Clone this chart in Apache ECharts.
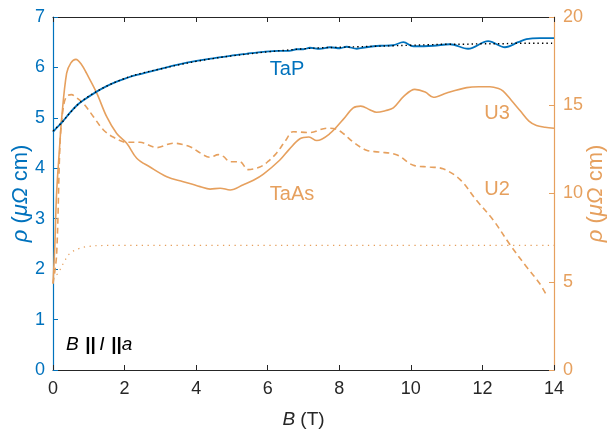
<!DOCTYPE html>
<html>
<head>
<meta charset="utf-8">
<script src="https://cdn.jsdelivr.net/npm/echarts@6/dist/echarts.min.js"></script>
<style>
html,body{margin:0;padding:0;background:#fff;}
#c{width:614px;height:432px;}
</style>
</head>
<body>
<div id="c"></div>
<script>
// ---- data ----
const xTicks = [0, 2, 4, 6, 8, 10, 12, 14];
const leftTicks = [0, 1, 2, 3, 4, 5, 6, 7];
const rightTicks = [0, 5, 10, 15, 20];

// TaP measured (left axis, µΩ cm)
const tapB   = [0, 0.1, 0.25, 0.47, 0.7, 0.85, 1.22, 1.5, 1.78, 2.06, 2.34, 2.9, 3.46, 4.01, 4.48, 4.95, 5.4, 5.88, 6.3, 6.6, 6.81, 7.0, 7.18, 7.45, 7.74, 8.02, 8.2, 8.49, 8.75, 9.14, 9.5, 9.79, 10.07, 10.63, 11.09, 11.6, 12.16, 12.63, 13.0, 13.23, 13.6, 14.0];
const tapRho = [4.72, 4.80, 4.91, 5.10, 5.27, 5.35, 5.52, 5.63, 5.72, 5.79, 5.85, 5.95, 6.05, 6.13, 6.18, 6.23, 6.27, 6.31, 6.33, 6.33, 6.36, 6.36, 6.39, 6.37, 6.40, 6.38, 6.41, 6.37, 6.40, 6.43, 6.44, 6.50, 6.42, 6.43, 6.46, 6.37, 6.52, 6.40, 6.50, 6.56, 6.58, 6.58];

// TaP fit (black dotted, left axis)
const fitB   = [0, 0.25, 0.5, 0.75, 1, 1.5, 2, 2.5, 3, 3.5, 4, 4.5, 5, 5.5, 6, 6.5, 7, 7.5, 8, 8.5, 9, 9.5, 10, 10.5, 11, 11.5, 12, 12.5, 13, 13.5, 14];
const fitRho = [4.74, 4.91, 5.12, 5.30, 5.43, 5.63, 5.78, 5.89, 5.97, 6.05, 6.12, 6.18, 6.23, 6.27, 6.31, 6.34, 6.37, 6.39, 6.40, 6.41, 6.42, 6.43, 6.44, 6.45, 6.46, 6.46, 6.47, 6.47, 6.48, 6.48, 6.48];

// TaAs U3 (solid, right axis)
const u3B   = [0, 0.05, 0.1, 0.18, 0.24, 0.38, 0.5, 0.64, 0.8, 0.94, 1.22, 1.5, 1.78, 2.06, 2.34, 2.71, 3.18, 3.64, 4.11, 4.39, 4.67, 4.95, 5.32, 5.6, 5.88, 6.34, 6.6, 6.9, 7.15, 7.37, 7.74, 8.11, 8.39, 8.6, 8.85, 9.04, 9.3, 9.51, 9.8, 10.11, 10.4, 10.63, 11.0, 11.56, 11.9, 12.21, 12.45, 12.58, 12.8, 13.05, 13.3, 13.51, 13.75, 14.0];
const u3Rho = [4.9, 7.0, 10.0, 12.5, 14.2, 16.8, 17.4, 17.6, 17.3, 16.8, 15.7, 14.35, 13.4, 12.85, 12.0, 11.5, 10.95, 10.67, 10.39, 10.25, 10.3, 10.2, 10.5, 10.75, 11.1, 11.9, 12.5, 13.1, 13.2, 13.0, 13.4, 14.2, 14.85, 14.95, 14.75, 14.6, 14.7, 14.85, 15.5, 15.9, 15.75, 15.45, 15.7, 16.0, 16.05, 16.05, 15.95, 15.8, 15.3, 14.7, 14.1, 13.85, 13.75, 13.7];

// TaAs U2 (dashed, right axis)
const u2B   = [0, 0.1, 0.2, 0.29, 0.38, 0.52, 0.61, 0.85, 1.13, 1.41, 1.68, 2.06, 2.43, 2.9, 3.36, 3.83, 4.11, 4.39, 4.62, 4.76, 4.95, 5.22, 5.45, 5.78, 6.0, 6.25, 6.5, 6.71, 7.18, 7.65, 7.9, 8.11, 8.4, 8.76, 9.1, 9.6, 10.07, 10.53, 10.9, 11.37, 11.84, 12.3, 12.77, 13.23, 13.6, 13.8];
const u2Rho = [4.9, 6.5, 13.0, 14.9, 15.5, 15.6, 15.5, 15.1, 14.35, 13.6, 13.2, 12.9, 12.9, 12.6, 12.85, 12.65, 12.3, 12.05, 12.2, 12.1, 11.8, 11.8, 11.35, 11.5, 11.8, 12.3, 13.0, 13.5, 13.45, 13.7, 13.65, 13.4, 12.9, 12.45, 12.35, 12.2, 11.6, 11.5, 11.4, 10.8, 9.6, 8.5, 7.1, 5.85, 4.9, 4.2];

// TaAs fit (orange dotted, right axis)
const afitB   = [0.1, 0.15, 0.29, 0.47, 0.75, 1.0, 1.31, 2, 4, 6, 8, 10, 12, 14];
const afitRho = [5.4, 5.5, 6.04, 6.6, 6.9, 7.0, 7.05, 7.06, 7.06, 7.06, 7.06, 7.06, 7.06, 7.06];

// annotations: [text, yAxisIndex, B, value]
const notes = [
  ['TaP', 0, 6.54, 5.95],
  ['TaAs', 1, 6.68, 9.97],
  ['U3', 1, 12.41, 14.56],
  ['U2', 1, 12.41, 10.25]
];

// ---- styling ----
const BLUE = '#0072BD';
const ORANGE = '#E6A05E';
const DARK = '#262626';
const FONT = '"Liberation Sans", Arial, Helvetica, sans-serif';

function pairs(xs, ys) { return xs.map((x, i) => [x, ys[i]]); }

const chart = echarts.init(document.getElementById('c'), null, {renderer: 'canvas'});

const option = {
  animation: false,
  backgroundColor: '#fff',
  textStyle: {fontFamily: FONT},
  grid: {left: 53, right: 60, top: 17, bottom: 62, containLabel: false, outerBoundsMode: 'none'},
  xAxis: [
    {
      type: 'value', min: xTicks[0], max: xTicks[xTicks.length - 1], interval: 2,
      position: 'bottom',
      name: '{i|B} (T)', nameLocation: 'middle', nameGap: 40, nameMoveOverlap: false,
      nameTextStyle: {color: DARK, fontSize: 19, fontFamily: FONT,
        rich: {i: {fontStyle: 'italic', fontSize: 19, color: DARK, fontFamily: FONT}}},
      axisLine: {show: true, onZero: false, lineStyle: {color: DARK, width: 1}},
      axisTick: {show: true, inside: true, length: 5, lineStyle: {color: DARK}},
      axisLabel: {color: DARK, fontSize: 18, margin: 10, fontFamily: FONT},
      splitLine: {show: false}
    },
    {
      type: 'value', min: xTicks[0], max: xTicks[xTicks.length - 1], interval: 2,
      position: 'top',
      axisLine: {show: true, onZero: false, lineStyle: {color: DARK, width: 1}},
      axisTick: {show: true, inside: true, length: 5, lineStyle: {color: DARK}},
      axisLabel: {show: false},
      splitLine: {show: false}
    }
  ],
  yAxis: [
    {
      type: 'value', min: leftTicks[0], max: leftTicks[leftTicks.length - 1], interval: 1,
      position: 'left',
      name: '{i|ρ} ({i|μΩ} cm)', nameLocation: 'middle', nameGap: 21, nameRotate: 90,
      nameMoveOverlap: false,
      nameTextStyle: {color: BLUE, fontSize: 22, fontFamily: FONT,
        rich: {i: {fontStyle: 'italic', fontSize: 22, color: BLUE, fontFamily: FONT}}},
      axisLine: {show: true, onZero: false, lineStyle: {color: BLUE, width: 1.2}},
      axisTick: {show: true, inside: true, length: 5, lineStyle: {color: BLUE}},
      axisLabel: {color: BLUE, fontSize: 18, margin: 8, fontFamily: FONT},
      splitLine: {show: false}
    },
    {
      type: 'value', min: rightTicks[0], max: rightTicks[rightTicks.length - 1], interval: 5,
      position: 'right',
      name: '{i|ρ} ({i|μΩ} cm)', nameLocation: 'middle', nameGap: 31, nameRotate: 90,
      nameMoveOverlap: false,
      nameTextStyle: {color: ORANGE, fontSize: 22, fontFamily: FONT,
        rich: {i: {fontStyle: 'italic', fontSize: 22, color: ORANGE, fontFamily: FONT}}},
      axisLine: {show: true, onZero: false, lineStyle: {color: ORANGE, width: 1.2}},
      axisTick: {show: true, inside: true, length: 5, lineStyle: {color: ORANGE}},
      axisLabel: {color: ORANGE, fontSize: 18, margin: 9, fontFamily: FONT},
      splitLine: {show: false}
    }
  ],
  series: [
    {
      name: 'TaP', type: 'line', xAxisIndex: 0, yAxisIndex: 0,
      data: pairs(tapB, tapRho), smooth: 0.35, showSymbol: false, symbol: 'none',
      lineStyle: {color: BLUE, width: 1.8}, z: 3
    },
    {
      name: 'TaP fit', type: 'line', xAxisIndex: 0, yAxisIndex: 0,
      data: pairs(fitB, fitRho), smooth: 0.35, showSymbol: false, symbol: 'none',
      lineStyle: {color: '#000', width: 1.4, type: [1.4, 3]}, z: 4
    },
    {
      name: 'U3', type: 'line', xAxisIndex: 0, yAxisIndex: 1,
      data: pairs(u3B, u3Rho), smooth: 0.35, showSymbol: false, symbol: 'none',
      lineStyle: {color: ORANGE, width: 1.6}, z: 2
    },
    {
      name: 'U2', type: 'line', xAxisIndex: 0, yAxisIndex: 1,
      data: pairs(u2B, u2Rho), smooth: 0.35, showSymbol: false, symbol: 'none',
      lineStyle: {color: ORANGE, width: 1.6, type: [6, 4]}, z: 2
    },
    {
      name: 'TaAs fit', type: 'line', xAxisIndex: 0, yAxisIndex: 1,
      data: pairs(afitB, afitRho), smooth: 0.35, showSymbol: false, symbol: 'none',
      lineStyle: {color: ORANGE, width: 1.2, type: [1.3, 4.5]}, z: 2
    }
  ]
};
chart.setOption(option);

// place annotations in data coordinates
const graphics = notes.map(n => {
  const p = chart.convertToPixel({xAxisIndex: 0, yAxisIndex: n[1]}, [n[2], n[3]]);
  return {
    type: 'text', x: p[0], y: p[1], z: 10,
    style: {text: n[0], fill: n[1] === 0 ? BLUE : ORANGE, font: '20px ' + FONT,
      align: 'center', verticalAlign: 'middle'}
  };
});
const pB = chart.convertToPixel({xAxisIndex: 0, yAxisIndex: 0}, [0.36, 0.5]);
graphics.push({
  type: 'text', x: pB[0], y: pB[1], z: 10,
  style: {
    text: '{i|B}  {b|||} {i|I}  {b|||}{i|a}',
    verticalAlign: 'middle', align: 'left',
    rich: {
      i: {fontStyle: 'italic', fontSize: 19, fill: '#000', fontFamily: FONT},
      b: {fontSize: 19, fontWeight: 'bold', fill: '#000', fontFamily: FONT}
    }
  }
});
chart.setOption({graphic: graphics});
</script>
</body>
</html>
